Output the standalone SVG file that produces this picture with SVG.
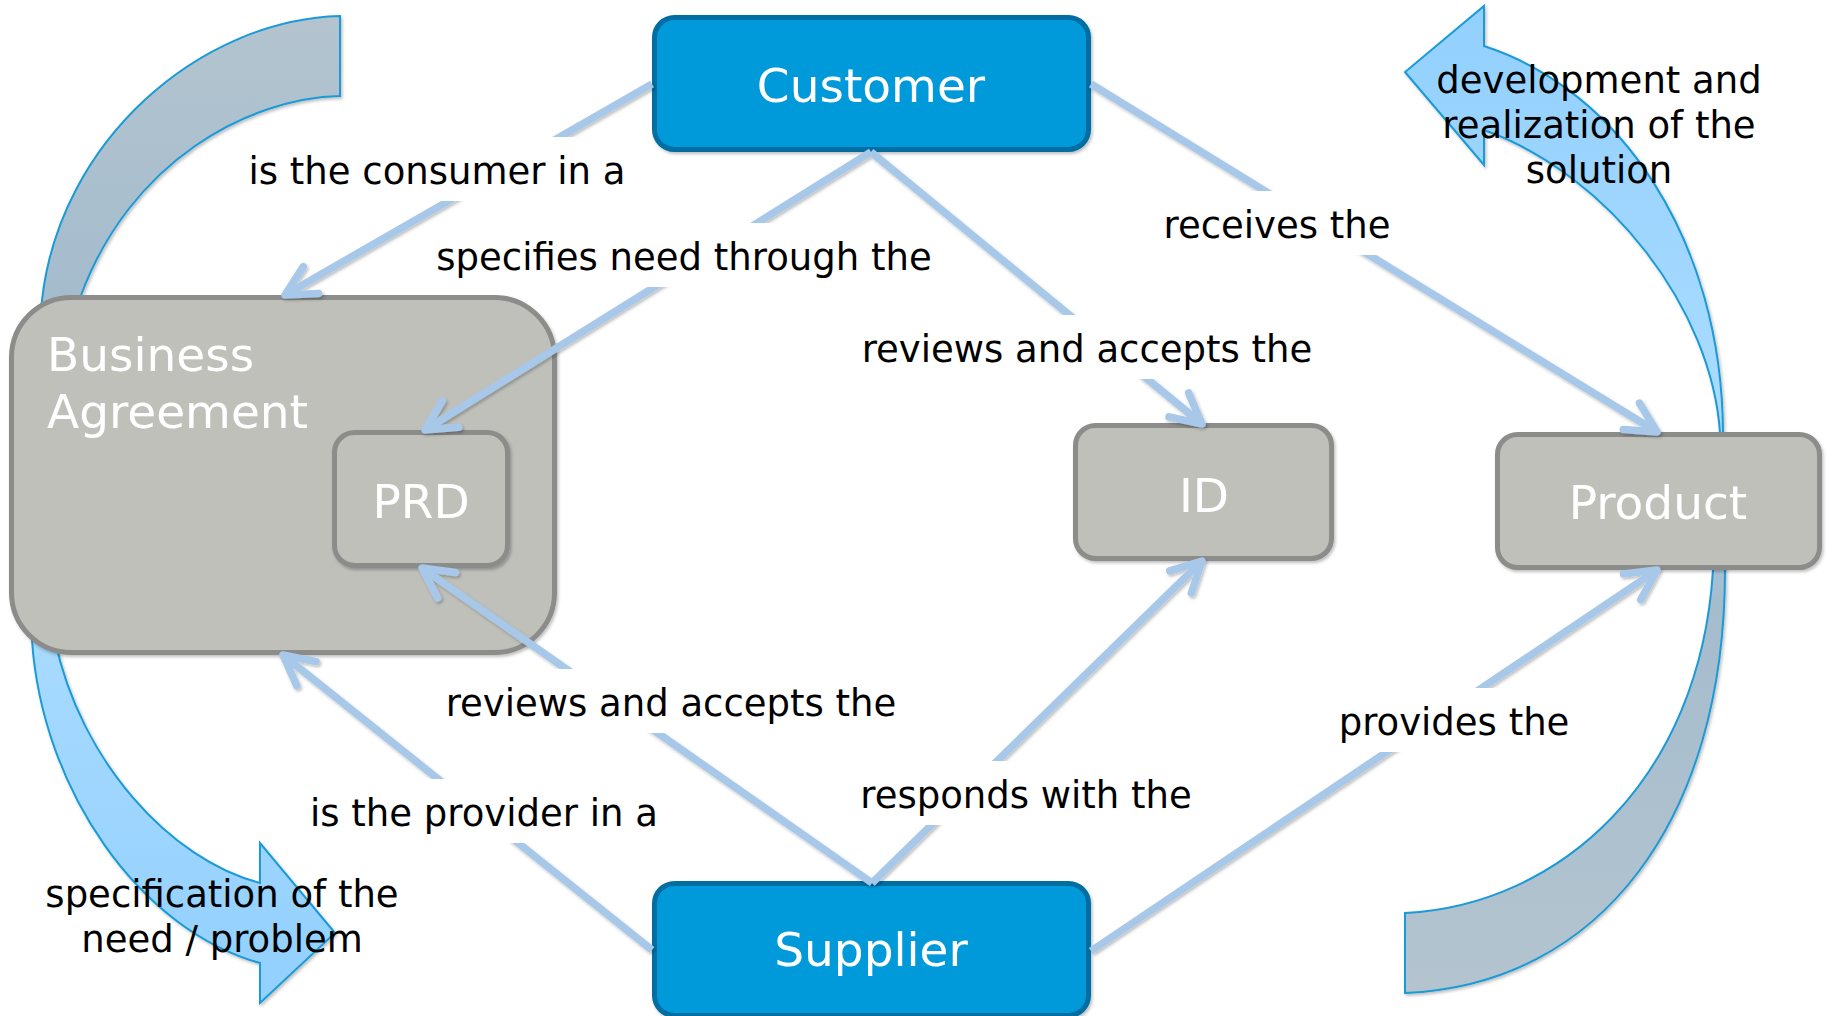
<svg xmlns="http://www.w3.org/2000/svg" width="1827" height="1016" viewBox="0 0 1827 1016">
<style>
  .lbl{font-family:"DejaVu Sans",Verdana,sans-serif;font-size:37px;fill:#000;text-anchor:middle}
  .ntx{font-family:"DejaVu Sans",Verdana,sans-serif;font-size:47px;fill:#fff;text-anchor:middle}
  .blue{fill:#0099D9;stroke:#006EA3;stroke-width:5}
  .gray{fill:#C0C0BB;stroke:#8C8C8A;stroke-width:5}
  .con{fill:none;stroke:#A7C8E8;stroke-width:7.5;marker-end:url(#v)}
  .bg{fill:#fff}
  .big{stroke:#1A9AD8;stroke-width:2}
</style>
<defs>
  <filter id="sh" x="-10%" y="-10%" width="120%" height="120%">
    <feDropShadow dx="1.5" dy="2" stdDeviation="1.5" flood-color="#000" flood-opacity="0.25"/>
  </filter>
  <marker id="v" markerUnits="userSpaceOnUse" viewBox="-40 -24 48 48" markerWidth="48" markerHeight="48" refX="0" refY="0" orient="auto" overflow="visible">
    <path d="M-30,-15.5 L0,0 L-30,15.5" fill="none" stroke="#A7C8E8" stroke-width="7.5" stroke-linecap="round" stroke-linejoin="round"/>
  </marker>
  <linearGradient id="gl" gradientUnits="userSpaceOnUse" x1="0" y1="16" x2="0" y2="1003">
    <stop offset="0" stop-color="#B3C4CF"/>
    <stop offset="0.28" stop-color="#A5BCCD"/>
    <stop offset="0.6" stop-color="#A9DBFF"/>
    <stop offset="1" stop-color="#92D0FE"/>
  </linearGradient>
  <linearGradient id="gr" gradientUnits="userSpaceOnUse" x1="0" y1="993" x2="0" y2="6">
    <stop offset="0" stop-color="#B3C4CF"/>
    <stop offset="0.4" stop-color="#A5BCCD"/>
    <stop offset="0.6" stop-color="#A9DBFF"/>
    <stop offset="1" stop-color="#92D0FE"/>
  </linearGradient>
</defs>
<rect width="1827" height="1016" fill="#fff"/>

<g id="curved-arrows" filter="url(#sh)">
  <path id="arrow-left" class="big" fill="url(#gl)" d="M340,16 C200,20 60,140 42,300 C30,400 25,560 32,640 C42,790 140,930 260,963 L260,1003 L335,933 L260,843 L260,883 C170,860 80,760 55,640 C50,560 55,400 80,298 C130,160 250,98 340,96 Z"/>
  <path id="arrow-right" class="big" fill="url(#gr)" d="M1405,913 C1560,905 1700,780 1713,570 L1720,433 C1712,310 1610,175 1484,130 L1484,165 L1405,72 L1484,6 L1484,46 C1620,90 1722,240 1723,433 L1725,570 C1725,820 1600,985 1405,993 Z"/>
</g>

<g id="node-customer" filter="url(#sh)">
  <rect class="blue" x="654.5" y="17.5" width="434" height="132" rx="20"/>
  <text class="ntx" x="871" y="102">Customer</text>
</g>
<g id="node-supplier" filter="url(#sh)">
  <rect class="blue" x="654.5" y="883.5" width="434" height="132" rx="20"/>
  <text class="ntx" x="871" y="966">Supplier</text>
</g>
<g id="node-business-agreement" filter="url(#sh)">
  <rect class="gray" x="11.5" y="297.5" width="543" height="355" rx="60"/>
  <text class="ntx" x="47" y="371" style="text-anchor:start">Business</text>
  <text class="ntx" x="47" y="428" style="text-anchor:start">Agreement</text>
</g>
<g id="node-prd" filter="url(#sh)">
  <rect class="gray" x="334.5" y="432.5" width="173" height="133" rx="20"/>
  <text class="ntx" x="421" y="518">PRD</text>
</g>
<g id="node-id" filter="url(#sh)">
  <rect class="gray" x="1075.5" y="425.5" width="256" height="133" rx="20"/>
  <text class="ntx" x="1204" y="512">ID</text>
</g>
<g id="node-product" filter="url(#sh)">
  <rect class="gray" x="1497.5" y="434.5" width="322" height="133" rx="20"/>
  <text class="ntx" x="1658" y="519">Product</text>
</g>

<g id="connectors" filter="url(#sh)">
  <line class="con" x1="652" y1="84" x2="285" y2="295"/>
  <line class="con" x1="871" y1="152" x2="425" y2="430"/>
  <line class="con" x1="871" y1="152" x2="1202" y2="424"/>
  <line class="con" x1="1091" y1="84" x2="1657" y2="432"/>
  <line class="con" x1="872" y1="883" x2="422" y2="568"/>
  <line class="con" x1="652" y1="950" x2="283" y2="655"/>
  <line class="con" x1="872" y1="883" x2="1202" y2="561"/>
  <line class="con" x1="1091" y1="951" x2="1657" y2="570"/>
</g>

<g id="connector-labels">
  <rect class="bg" x="242" y="137" width="390" height="64"/>
  <text class="lbl" x="437" y="184">is the consumer in a</text>
  <rect class="bg" x="428" y="223" width="512" height="64"/>
  <text class="lbl" x="684" y="270">specifies need through the</text>
  <rect class="bg" x="852" y="315" width="470" height="64"/>
  <text class="lbl" x="1087" y="362">reviews and accepts the</text>
  <rect class="bg" x="1157" y="191" width="240" height="64"/>
  <text class="lbl" x="1277" y="238">receives the</text>
  <rect class="bg" x="436" y="669" width="470" height="64"/>
  <text class="lbl" x="671" y="716">reviews and accepts the</text>
  <rect class="bg" x="298" y="779" width="372" height="64"/>
  <text class="lbl" x="484" y="826">is the provider in a</text>
  <rect class="bg" x="850" y="761" width="352" height="64"/>
  <text class="lbl" x="1026" y="808">responds with the</text>
  <rect class="bg" x="1330" y="688" width="248" height="64"/>
  <text class="lbl" x="1454" y="735">provides the</text>
</g>

<g id="arrow-labels">
  <text class="lbl" x="1599" y="93">development and</text>
  <text class="lbl" x="1599" y="138">realization of the</text>
  <text class="lbl" x="1599" y="183">solution</text>
  <text class="lbl" x="222" y="907">specification of the</text>
  <text class="lbl" x="222" y="952">need / problem</text>
</g>
</svg>
